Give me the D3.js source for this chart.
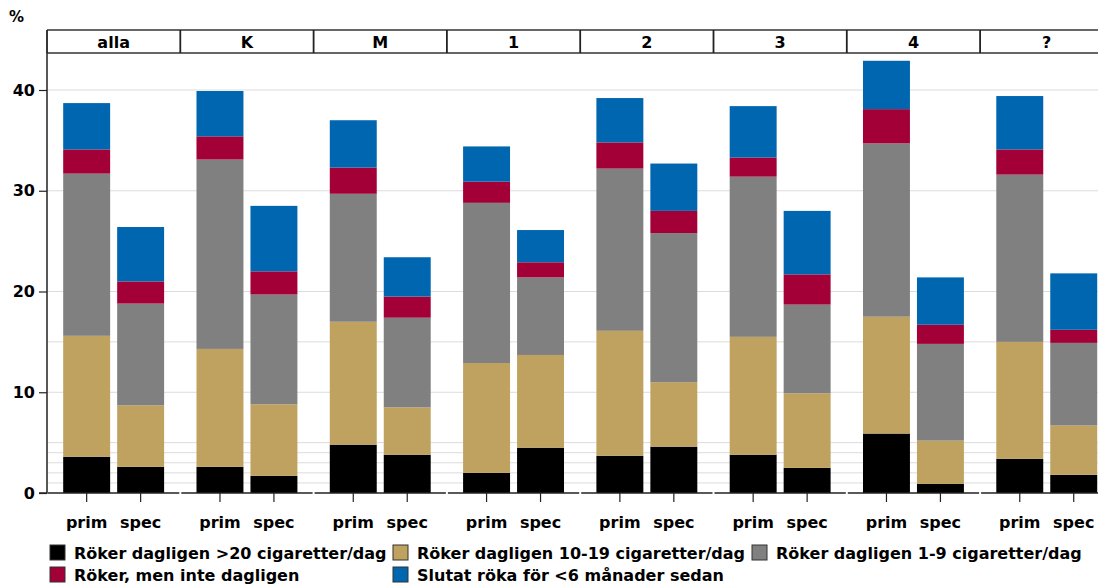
<!DOCTYPE html>
<html><head><meta charset="utf-8">
<script src="https://cdn.jsdelivr.net/npm/d3@7"></script>
<style>
html,body{margin:0;padding:0;background:#fff;overflow:hidden}
text{font-family:"DejaVu Sans",Verdana,sans-serif;font-weight:bold;fill:#000}
</style></head>
<body>
<svg id="chart" width="1098" height="584"></svg>
<script>
// ---- data ----
const panels = ["alla","K","M","1","2","3","4","?"];
const bars = ["prim","spec"];
const seriesNames = [
  "Röker dagligen >20 cigaretter/dag",
  "Röker dagligen 10-19 cigaretter/dag",
  "Röker dagligen 1-9 cigaretter/dag",
  "Röker, men inte dagligen",
  "Slutat röka för <6 månader sedan"
];
// values per panel, [prim, spec]
const over20   = [[3.6,2.6],[2.6,1.7],[4.8,3.8],[2.0,4.5],[3.7,4.6],[3.8,2.5],[5.9,0.9],[3.4,1.8]];
const d10to19  = [[12.0,6.1],[11.7,7.1],[12.2,4.7],[10.9,9.2],[12.4,6.4],[11.7,7.4],[11.6,4.3],[11.6,4.9]];
const d1to9    = [[16.1,10.1],[18.8,10.9],[12.7,8.9],[15.9,7.7],[16.1,14.8],[15.9,8.8],[17.2,9.6],[16.6,8.2]];
const notDaily = [[2.4,2.2],[2.3,2.3],[2.6,2.1],[2.1,1.5],[2.6,2.2],[1.9,3.0],[3.4,1.9],[2.5,1.3]];
const quit6m   = [[4.6,5.4],[4.5,6.5],[4.7,3.9],[3.5,3.2],[4.4,4.7],[5.1,6.3],[4.8,4.7],[5.3,5.6]];
const yTicks = [0,10,20,30,40];
const gridVals = [1,2,3,4,5,10,15,20,30,40];
const colors = ["#000000","#BFA25F","#808080","#A20036","#0066B0"];

const seriesData = [over20,d10to19,d1to9,notDaily,quit6m];

// ---- layout ----
const svg = d3.select("#chart");
const left = 47, panelW = 133.3;
const y = d3.scaleLinear().domain([0,40]).range([493,90]);
const xOuter = d3.scaleBand().domain(panels).range([left, left + panelW*panels.length]).padding(0);
const xInner = d3.scaleBand().domain(bars).range([0, xOuter.bandwidth()]).paddingInner(0.13).paddingOuter(0.3);

// gridlines
svg.append("g").selectAll("line").data(gridVals).join("line")
  .attr("x1", left).attr("x2", 1098)
  .attr("y1", d=>y(d)).attr("y2", d=>y(d))
  .attr("stroke", "#dcdcdc").attr("stroke-width", 1);

// stacked bars
const rows = [];
panels.forEach((p,pi)=>{
  bars.forEach((b,bi)=>{
    const row = {panel:p, bar:b};
    seriesData.forEach((s,si)=>{ row["s"+si] = s[pi][bi]; });
    rows.push(row);
  });
});
const stack = d3.stack().keys(seriesData.map((_,i)=>"s"+i));
const stacked = stack(rows);
svg.append("g").selectAll("g").data(stacked).join("g")
  .attr("fill", (d,i)=>colors[i])
  .selectAll("rect").data(d=>d).join("rect")
  .attr("x", d=>xOuter(d.data.panel)+xInner(d.data.bar))
  .attr("width", xInner.bandwidth())
  .attr("y", d=>y(d[1]))
  .attr("height", d=>y(d[0])-y(d[1]));

// x axes per panel
panels.forEach(p=>{
  const g = svg.append("g").attr("transform", `translate(0,${y(0)})`);
  g.append("line").attr("x1", xOuter(p)+1).attr("x2", xOuter(p)+xOuter.bandwidth()-1)
    .attr("y1",0).attr("y2",0).attr("stroke","#222").attr("stroke-width",1.5);
  bars.forEach(b=>{
    const cx = xOuter(p)+xInner(b)+xInner.bandwidth()/2;
    g.append("line").attr("x1",cx).attr("x2",cx).attr("y1",0).attr("y2",9)
      .attr("stroke","#222").attr("stroke-width",1.2);
    g.append("text").attr("x",cx).attr("y",35).attr("text-anchor","middle")
      .style("font-size","16px").text(b);
  });
});

// y axis
const yAxis = d3.axisLeft(y).tickValues(yTicks).tickSize(8).tickPadding(4).tickFormat(d3.format("d"));
const ya = svg.append("g").attr("transform", `translate(${left},0)`).call(yAxis);
ya.select(".domain").attr("stroke","#222").attr("stroke-width",1.5).attr("d", `M-8,${y(0)}H0V53`);
ya.selectAll(".tick line").attr("stroke","#222").attr("stroke-width",1.2);
ya.selectAll(".tick text").style("font-size","16px").style("font-family","DejaVu Sans, Verdana, sans-serif").style("font-weight","bold").attr("fill","#000");

svg.append("text").attr("x",9).attr("y",22).style("font-size","15px").text("%");

// header strip
const strip = svg.append("g");
strip.append("line").attr("x1",left).attr("x2",1098).attr("y1",30).attr("y2",30).attr("stroke","#333").attr("stroke-width",1.5);
strip.append("line").attr("x1",left).attr("x2",1098).attr("y1",53).attr("y2",53).attr("stroke","#333").attr("stroke-width",1.5);
panels.forEach(p=>{
  strip.append("line").attr("x1",xOuter(p)).attr("x2",xOuter(p)).attr("y1",30).attr("y2",53)
    .attr("stroke","#222").attr("stroke-width",1.8);
  strip.append("text").attr("x",xOuter(p)+xOuter.bandwidth()/2).attr("y",48)
    .attr("text-anchor","middle").style("font-size","16px").text(p);
});

// legend
const legendPos = [[50,545],[393,545],[752,545],[50,567],[393,567]];
seriesNames.forEach((n,i)=>{
  const [lx,ly] = legendPos[i];
  svg.append("rect").attr("x",lx).attr("y",ly).attr("width",15).attr("height",15)
    .attr("fill",colors[i]).attr("stroke","#333").attr("stroke-width",1);
  svg.append("text").attr("x",lx+24).attr("y",ly+14).style("font-size","16px").text(n);
});
</script>
</body></html>
